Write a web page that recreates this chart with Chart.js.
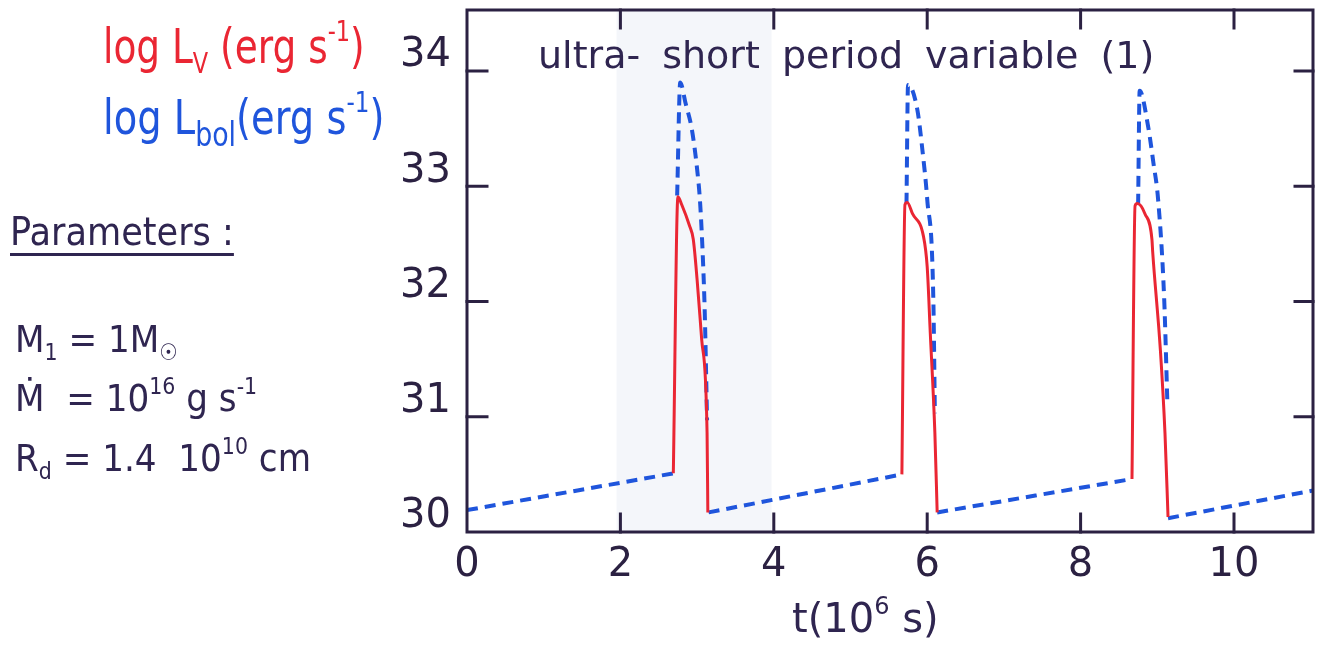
<!DOCTYPE html>
<html>
<head>
<meta charset="utf-8">
<script src="https://cdn.jsdelivr.net/npm/chart.js@4.4.1/dist/chart.umd.min.js"></script>
<style>
    html, body { margin: 0; padding: 0; background: #fff; }
    #wrap { position: relative; width: 1323px; height: 652px; font-family: "DejaVu Sans", sans-serif; color: #2f2550; }
    #wrap canvas { position: absolute; left: 0; top: 0; }
    .note { position: absolute; white-space: nowrap; line-height: 1; transform-origin: 0 0; }
    .note sub { font-size: 0.6em; vertical-align: -0.35em; line-height: 0; }
    .note sup { font-size: 0.6em; vertical-align: 0.75em; line-height: 0; }
    .red { color: #ea2633; }
    .blue { color: #1f55dc; }
</style>
</head>
<body>
<div id="wrap">
    <canvas id="lcChart" width="1323" height="652"></canvas>

    <div class="note red" style="left:103px; top:22px; font-size:48px; transform:scaleX(0.78);">log L<sub>V</sub> (erg s<sup>-1</sup>)</div>
    <div class="note blue" style="left:103px; top:93px; font-size:48px; transform:scaleX(0.8);">log L<sub style="font-size:0.7em">bol</sub>(erg s<sup>-1</sup>)</div>

    <div class="note" style="left:10px; top:212px; font-size:39px; transform:scaleX(0.9); text-decoration:underline; text-underline-offset:8px; text-decoration-thickness:3px;">Parameters :</div>
    <div class="note" style="left:15px; top:320px; font-size:38px; transform:scaleX(0.9);">M<sub>1</sub> = 1M<sub>☉</sub></div>
    <div class="note" style="left:15px; top:379px; font-size:38px; transform:scaleX(0.9);">Ṁ&nbsp; = 10<sup>16</sup> g s<sup>-1</sup></div>
    <div class="note" style="left:15px; top:439px; font-size:38px; transform:scaleX(0.9);">R<sub>d</sub> = 1.4&nbsp; 10<sup>10</sup> cm</div>

    <div class="note" style="left:538px; top:36px; font-size:38px; word-spacing:10px;">ultra- short period variable (1)</div>
    <div class="note" style="left:792px; top:598px; font-size:40px;">t(10<sup>6</sup> s)</div>
</div>

<script>
// time in 10^6 s, luminosities as log L (erg/s)
// bolometric light curve (dashed blue), null = hidden behind the red curve
const tBol = [0, 2.70, 2.71,
    2.74, 2.78, 2.85, 2.93, 3.00, 3.04, 3.08, 3.10, 3.13, 3.135,
    3.15, 5.67, 5.68,
    5.73, 5.75, 5.87, 5.94, 6.00, 6.08, 6.10, 6.11,
    6.13, 8.67, 8.68,
    8.75, 8.77, 8.88, 8.95, 9.01, 9.09, 9.13, 9.135,
    9.14, 11.03];
const logLbol = [30.19, 30.51, null,
    32.92, 33.90, 33.72, 33.50, 33.15, 32.85, 32.30, 31.90, 30.97, null,
    30.17, 30.50, null,
    32.85, 33.88, 33.67, 33.30, 32.89, 32.02, 31.03, null,
    30.17, 30.46, null,
    32.84, 33.83, 33.52, 33.20, 32.89, 32.02, 31.15, null,
    30.12, 30.36];

// visual light curve during the outbursts (solid red)
const tV = [2.69, 2.75, 2.80, 2.90, 2.95, 3.00, 3.06, 3.13, 3.14, 3.145,
    5.67, 5.71, 5.74, 5.81, 5.95, 6.00, 6.04, 6.10, 6.13, 6.135,
    8.67, 8.71, 8.74, 8.84, 8.93, 8.94, 9.04, 9.10, 9.14];
const logLV = [30.51, 32.91, 32.84, 32.66, 32.54, 32.19, 31.67, 30.86, 30.17, null,
    30.50, 32.84, 32.86, 32.76, 32.57, 32.30, 31.73, 30.86, 30.17, null,
    30.46, 32.83, 32.85, 32.76, 32.54, 32.43, 31.58, 30.86, 30.13];

const xTicks = [0, 2, 4, 6, 8, 10];
const yTicks = [30, 31, 32, 33, 34];

const ink = '#2b2142';

function toPoints(xs, ys) {
    return xs.map(function(x, i) { return { x: x, y: ys[i] }; });
}

// box around the plot with inward tick marks on all four sides
const framePlugin = {
    id: 'frame',
    beforeDatasetsDraw: function(chart) {
        const ctx = chart.ctx;
        const a = chart.chartArea;
        const xs = chart.scales.x;
        // faint paper shading of the scan
        ctx.save();
        ctx.fillStyle = '#f4f6fa';
        const b0 = xs.getPixelForValue(1.95), b1 = xs.getPixelForValue(3.97);
        ctx.fillRect(b0, a.top, b1 - b0, a.bottom - a.top);
        ctx.restore();
    },
    afterDatasetsDraw: function(chart) {
        const ctx = chart.ctx;
        const a = chart.chartArea;
        const xs = chart.scales.x, ys = chart.scales.y;
        ctx.save();
        ctx.strokeStyle = ink;
        ctx.lineWidth = 3;
        ctx.lineCap = 'square';
        ctx.strokeRect(a.left, a.top, a.right - a.left, a.bottom - a.top);
        ctx.beginPath();
        xTicks.forEach(function(v) {
            if (v === 0) return;
            const px = xs.getPixelForValue(v);
            ctx.moveTo(px, a.bottom); ctx.lineTo(px, a.bottom - 18);
            ctx.moveTo(px, a.top); ctx.lineTo(px, a.top + 18);
        });
        yTicks.forEach(function(v) {
            if (v === 30) return;
            const py = ys.getPixelForValue(v);
            ctx.moveTo(a.left, py); ctx.lineTo(a.left + 20, py);
            ctx.moveTo(a.right, py); ctx.lineTo(a.right - 18, py);
        });
        ctx.stroke();
        ctx.restore();
    }
};

new Chart(document.getElementById('lcChart').getContext('2d'), {
    type: 'line',
    data: {
        datasets: [{
            label: 'log L_V',
            data: toPoints(tV, logLV),
            borderColor: '#ea2633',
            borderWidth: 3,
            pointRadius: 0,
            cubicInterpolationMode: 'monotone',
            spanGaps: false
        }, {
            label: 'log L_bol',
            data: toPoints(tBol, logLbol),
            borderColor: '#1f55dc',
            borderWidth: 4,
            borderDash: [11, 7],
            pointRadius: 0,
            cubicInterpolationMode: 'monotone',
            spanGaps: false
        }]
    },
    options: {
        responsive: false,
        animation: false,
        layout: { padding: { left: 380, right: 10, top: 10, bottom: 0 } },
        plugins: {
            legend: { display: false },
            title: { display: false },
            tooltip: { enabled: false }
        },
        scales: {
            x: {
                type: 'linear',
                min: 0,
                max: 11.03,
                grid: { display: false, drawTicks: false },
                border: { display: false },
                afterBuildTicks: function(s) { s.ticks = xTicks.map(function(v) { return { value: v }; }); },
                afterFit: function(s) { s.height = 120; s.paddingLeft = 0; s.paddingRight = 0; },
                ticks: {
                    color: ink,
                    padding: 10,
                    maxRotation: 0,
                    font: { family: 'DejaVu Sans', size: 40 }
                }
            },
            y: {
                type: 'linear',
                min: 30,
                max: 34.53,
                grid: { display: false, drawTicks: false },
                border: { display: false },
                afterBuildTicks: function(s) { s.ticks = yTicks.map(function(v) { return { value: v }; }); },
                afterFit: function(s) { s.width = 87; s.paddingTop = 0; s.paddingBottom = 0; },
                ticks: {
                    color: ink,
                    padding: 16,
                    labelOffset: -15,
                    font: { family: 'DejaVu Sans', size: 40 }
                }
            }
        }
    },
    plugins: [framePlugin]
});
</script>
</body>
</html>
